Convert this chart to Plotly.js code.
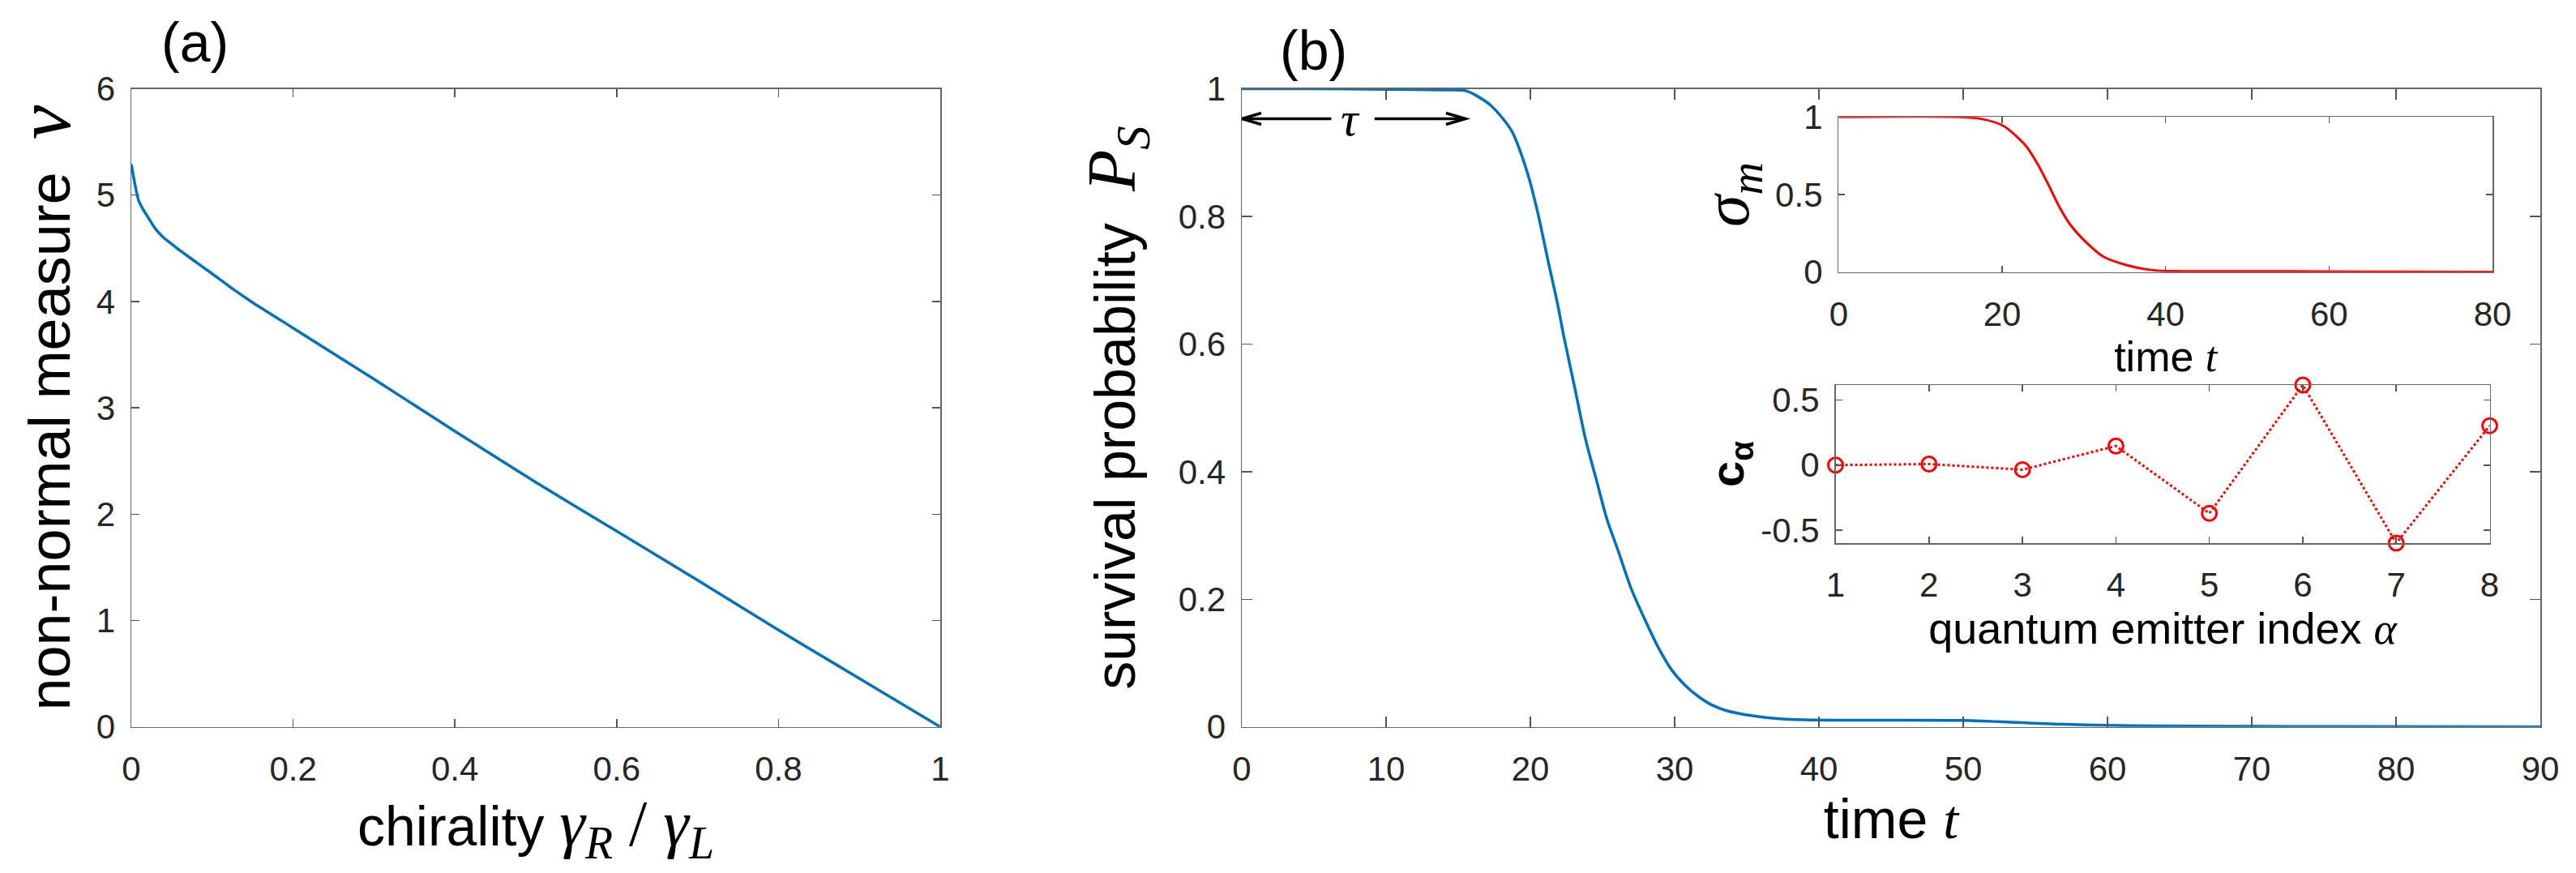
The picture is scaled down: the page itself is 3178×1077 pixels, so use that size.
<!DOCTYPE html>
<html>
<head>
<meta charset="utf-8">
<script src="https://cdn.plot.ly/plotly-3.0.1.min.js"></script>
<style>
html,body{margin:0;padding:0;background:#fff;overflow:hidden;}
#chart{width:3178px;height:1077px;}
</style>
</head>
<body>
<div id="chart"></div>
<script>
// ---------- data ----------
// panel (a): non-normal measure vs chirality
const chirality = [0, 0.004, 0.009, 0.015, 0.02, 0.03, 0.04, 0.05, 0.06, 0.08, 0.1, 0.125, 0.15, 0.2, 0.25, 0.3, 0.4, 0.5, 0.6, 0.7, 0.8, 0.9, 1];
const nonNormal = [5.29, 5.12, 4.95, 4.86, 4.80, 4.68, 4.60, 4.54, 4.48, 4.37, 4.26, 4.12, 3.99, 3.75, 3.51, 3.27, 2.78, 2.30, 1.84, 1.38, 0.91, 0.455, 0];

// panel (b): survival probability vs time
const timeB = [0, 5, 10, 14, 15.5, 16.2, 17.3, 18.7, 19.8, 20.5, 21.2, 21.9, 22.3, 23.1, 23.8, 24.6, 25.3, 26.1, 27.0, 28.0, 28.9, 29.8, 30.8, 31.7, 32.6, 33.6, 35.5, 37.3, 39.9, 45, 50, 54.6, 57, 59.8, 63, 68.7, 75, 90];
const survival = [1, 1, 0.999, 0.998, 0.997, 0.99, 0.973, 0.934, 0.868, 0.807, 0.733, 0.661, 0.614, 0.529, 0.453, 0.385, 0.326, 0.275, 0.216, 0.165, 0.123, 0.089, 0.0635, 0.0466, 0.034, 0.0254, 0.017, 0.0127, 0.0107, 0.0105, 0.0100, 0.006, 0.004, 0.0025, 0.0015, 0.001, 0.0005, 0];

// inset 1: sigma_m vs time
const timeInset = [0, 14.7, 17.4, 20.1, 22.9, 24.2, 25.6, 26.9, 28.3, 30.4, 32.4, 35.1, 37.9, 39.9, 51.5, 60, 70, 80];
const sigmaM = [1, 1, 0.988, 0.944, 0.814, 0.709, 0.57, 0.43, 0.308, 0.186, 0.099, 0.047, 0.016, 0.007, 0.005, 0.004, 0.002, 0.001];

// inset 2: c_alpha vs emitter index
const emitterIndex = [1, 2, 3, 4, 5, 6, 7, 8];
const cAlpha = [0, 0.008, -0.035, 0.147, -0.371, 0.616, -0.6, 0.303];

// tick labels
const ticksAx = [0, 0.2, 0.4, 0.6, 0.8, 1];
const ticksAxText = ['0', '0.2', '0.4', '0.6', '0.8', '1'];
const ticksAy = [0, 1, 2, 3, 4, 5, 6];
const ticksBx = [0, 10, 20, 30, 40, 50, 60, 70, 80, 90];
const ticksBy = [0, 0.2, 0.4, 0.6, 0.8, 1];
const ticksByText = ['0', '0.2', '0.4', '0.6', '0.8', '1'];
const ticksI1x = [0, 20, 40, 60, 80];
const ticksI1y = [0, 0.5, 1];
const ticksI1yText = ['0', '0.5', '1'];
const ticksI2x = [1, 2, 3, 4, 5, 6, 7, 8];
const ticksI2y = [-0.5, 0, 0.5];
const ticksI2yText = ['-0.5', '0', '0.5'];

// tau marker (survival plateau length)
const tauEnd = 15.5;
const tauLevel = 0.953;
const tauGapLeft = 6.2;
const tauGapRight = 9.2;
const tauLabelPos = 7.5;

// ---------- layout helpers ----------
const W = 3178, H = 1077;
const dX = (a, b) => [a / W, b / W];
const dY = (top, bottom) => [1 - bottom / H, 1 - top / H];
const SANS = 'Liberation Sans, Arial, Helvetica, sans-serif';
const SERIF = 'Liberation Serif, Times New Roman, serif';

// panel (b) geometry (px) used to size the tau arrowheads
const bLeft = 1532, bRight = 3134, bTop = 109.5, bBottom = 896.7;
const bRangeX = [0, 90], bRangeY = [0, 1];
const pxPerX = (bRight - bLeft) / (bRangeX[1] - bRangeX[0]);
const pxPerY = (bBottom - bTop) / (bRangeY[1] - bRangeY[0]);
const headLen = 24 / pxPerX, headHalf = 7 / pxPerY;

function axisStyle(extra) {
  return Object.assign({
    showline: true, linecolor: '#666', linewidth: 1.5, mirror: 'ticks',
    ticks: 'inside', tickcolor: '#555', tickwidth: 1.5, ticklen: 10,
    showgrid: false, zeroline: false, fixedrange: true,
    tickfont: {family: SANS, size: 42, color: '#262626'}
  }, extra);
}

const traces = [
  {x: chirality, y: nonNormal, xaxis: 'x', yaxis: 'y', type: 'scatter', mode: 'lines',
   line: {color: '#0072BD', width: 3.5, shape: 'spline', smoothing: 0.6}, cliponaxis: false, showlegend: false},
  {x: timeB, y: survival, xaxis: 'x2', yaxis: 'y2', type: 'scatter', mode: 'lines',
   line: {color: '#0072BD', width: 3.5, shape: 'spline', smoothing: 0.8}, cliponaxis: false, showlegend: false},
  {x: timeInset, y: sigmaM, xaxis: 'x3', yaxis: 'y3', type: 'scatter', mode: 'lines',
   line: {color: '#FF0000', width: 3, shape: 'spline', smoothing: 0.8}, cliponaxis: false, showlegend: false},
  {x: emitterIndex, y: cAlpha, xaxis: 'x4', yaxis: 'y4', type: 'scatter', mode: 'lines+markers',
   line: {color: '#FF0000', width: 3, dash: 'dot'},
   marker: {symbol: 'circle-open', size: 18, color: '#FF0000', line: {width: 3, color: '#FF0000'}},
   cliponaxis: false, showlegend: false}
];

const arrowLine = {color: '#000', width: 3.5};
const shapes = [
  {type: 'line', xref: 'x2', yref: 'y2', x0: tauGapLeft, x1: 0, y0: tauLevel, y1: tauLevel, line: arrowLine},
  {type: 'line', xref: 'x2', yref: 'y2', x0: tauGapRight, x1: tauEnd, y0: tauLevel, y1: tauLevel, line: arrowLine},
  {type: 'path', xref: 'x2', yref: 'y2', line: arrowLine,
   path: `M${0 + headLen},${tauLevel + headHalf} L0,${tauLevel} L${0 + headLen},${tauLevel - headHalf}`},
  {type: 'path', xref: 'x2', yref: 'y2', line: arrowLine,
   path: `M${tauEnd - headLen},${tauLevel + headHalf} L${tauEnd},${tauLevel} L${tauEnd - headLen},${tauLevel - headHalf}`}
];

const layout = {
  width: W, height: H,
  margin: {l: 0, r: 0, t: 0, b: 0, pad: 0},
  paper_bgcolor: '#fff', plot_bgcolor: '#fff',
  showlegend: false,
  font: {family: SANS, color: '#000'},
  xaxis: axisStyle({domain: dX(162, 1160), range: [0, 1], anchor: 'y',
    tickmode: 'array', tickvals: ticksAx, ticktext: ticksAxText, ticklabelstandoff: 14,
    title: {text: 'chirality <span style="font-family:Liberation Serif;font-size:80px"><i>γ<sub>R</sub></i> / <i>γ<sub>L</sub></i></span>',
            font: {family: SANS, size: 68, color: '#000'}, standoff: 16}}),
  yaxis: axisStyle({domain: dY(109.5, 896.7), range: [0, 6], anchor: 'x',
    tickmode: 'array', tickvals: ticksAy, ticklabelstandoff: 10,
    title: {text: 'non-normal measure  <span style="font-family:Liberation Serif;font-size:96px"><i>ν</i></span>',
            font: {family: SANS, size: 72, color: '#000'}, standoff: 28}}),
  xaxis2: axisStyle({domain: dX(bLeft, bRight), range: bRangeX, anchor: 'y2', ticklen: 13,
    tickmode: 'array', tickvals: ticksBx, ticklabelstandoff: 14,
    title: {text: 'time <span style="font-family:Liberation Serif"><i>t</i></span>',
            font: {family: SANS, size: 68, color: '#000'}, standoff: 8}}),
  yaxis2: axisStyle({domain: dY(bTop, bBottom), range: bRangeY, anchor: 'x2', ticklen: 13,
    tickmode: 'array', tickvals: ticksBy, ticktext: ticksByText, ticklabelstandoff: 10,
    title: {text: 'survival probability  <span style="font-family:Liberation Serif;font-size:84px"><i>P<sub>S</sub></i></span>',
            font: {family: SANS, size: 70, color: '#000'}, standoff: 30}}),
  xaxis3: axisStyle({domain: dX(2268.4, 3075), range: [0, 80], anchor: 'y3', ticklen: 8,
    tickmode: 'array', tickvals: ticksI1x, ticklabelstandoff: 14,
    title: {text: 'time <span style="font-family:Liberation Serif"><i>t</i></span>',
            font: {family: SANS, size: 52, color: '#000'}, standoff: 0}}),
  yaxis3: axisStyle({domain: dY(144.3, 335.7), range: [0, 1], anchor: 'x3', ticklen: 8,
    tickmode: 'array', tickvals: ticksI1y, ticktext: ticksI1yText, ticklabelstandoff: 10,
    title: {text: '<span style="font-family:Liberation Serif"><i>σ<sub>m</sub></i></span>',
            font: {family: SERIF, size: 80, color: '#000'}, standoff: 6}}),
  xaxis4: axisStyle({domain: dX(2264.5, 3071.5), range: [1, 8], anchor: 'y4', ticklen: 8,
    tickmode: 'array', tickvals: ticksI2x, ticklabelstandoff: 14,
    title: {text: 'quantum emitter index <span style="font-family:Liberation Serif"><i>α</i></span>',
            font: {family: SANS, size: 54, color: '#000'}, standoff: 3}}),
  yaxis4: axisStyle({domain: dY(475, 670), range: [-0.6, 0.616], anchor: 'x4', ticklen: 8,
    tickmode: 'array', tickvals: ticksI2y, ticktext: ticksI2yText, ticklabelstandoff: 10,
    title: {text: '<b>c<sub>α</sub></b>',
            font: {family: SANS, size: 58, color: '#000'}, standoff: 2}}),
  shapes: shapes,
  annotations: [
    {text: '(a)', xref: 'paper', yref: 'paper', x: 240 / W, y: 1 - 52 / H, xanchor: 'center', yanchor: 'middle',
     showarrow: false, font: {family: SANS, size: 68, color: '#000'}},
    {text: '(b)', xref: 'paper', yref: 'paper', x: 1620 / W, y: 1 - 62 / H, xanchor: 'center', yanchor: 'middle',
     showarrow: false, font: {family: SANS, size: 68, color: '#000'}},
    {text: '<i>τ</i>', xref: 'x2', yref: 'y2', x: tauLabelPos, y: tauLevel, xanchor: 'center', yanchor: 'middle',
     showarrow: false, font: {family: SERIF, size: 60, color: '#000'}}
  ]
};

Plotly.newPlot('chart', traces, layout, {staticPlot: true, displayModeBar: false});
</script>
</body>
</html>
